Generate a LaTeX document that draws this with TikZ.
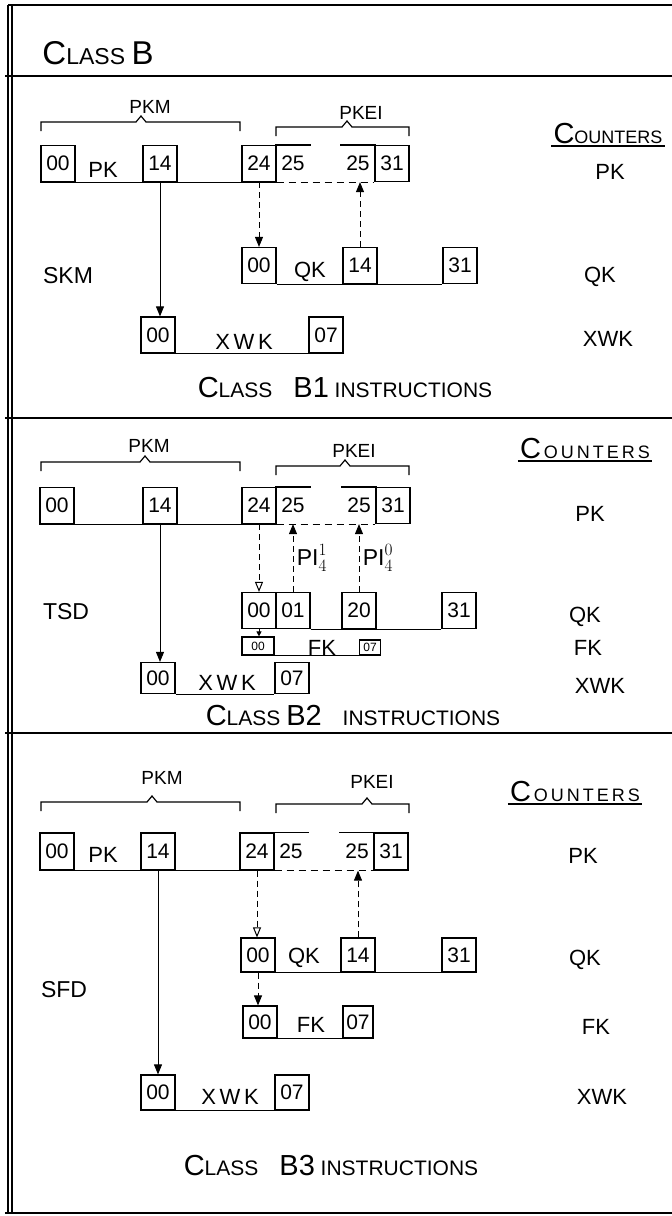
\documentclass[tikz,border=0pt]{standalone}
\usepackage{fontspec}
\setmainfont{Liberation Sans}
\usepackage{tikz}
\usetikzlibrary{arrows.meta}
\newcommand{\capbig}[1]{{\fontsize{29}{29}\selectfont #1}}
\newcommand{\regbrace}[4]{\draw[regline] (#1,#4+9) -- (#1,#4) -- (#3-5,#4) -- (#3,#4-6) -- (#3+5,#4) -- (#2,#4) -- (#2,#4+9);}
\tikzstyle{cell} = [draw, line width=1.2pt, minimum width=34pt, minimum height=36pt, inner sep=0pt, font=\fontsize{21}{21}\selectfont]
\tikzstyle{opencell} = [cell, draw=none]
\tikzstyle{smallcell} = [cell, minimum width=32pt, minimum height=18pt, font=\fontsize{12}{12}\selectfont]
\tikzstyle{regname} = [font=\fontsize{22}{22}\selectfont]
\tikzstyle{ctrname} = [font=\fontsize{22}{22}\selectfont]
\tikzstyle{ctrhead} = [font=\fontsize{18}{18}\selectfont, inner sep=2pt]
\tikzstyle{opname} = [font=\fontsize{23}{23}\selectfont]
\tikzstyle{field} = [font=\fontsize{19}{19}\selectfont]
\tikzstyle{piname} = [font=\fontsize{23}{23}\selectfont]
\tikzstyle{heading} = [font=\fontsize{21}{21}\selectfont]
\tikzstyle{regline} = [line width=1.2pt]
\tikzstyle{dregline} = [regline, dash pattern=on 7pt off 5pt]
\tikzstyle{rule} = [line width=1.6pt]
\tikzstyle{xfer} = [line width=1pt, -{Triangle[length=10pt,width=8pt]}]
\tikzstyle{dxfer} = [xfer, dash pattern=on 6pt off 4pt]
\tikzstyle{oxfer} = [line width=1pt, dash pattern=on 6pt off 4pt, -{Triangle[open,length=10pt,width=8pt]}]

\begin{document}
\begin{tikzpicture}[x=1pt, y=-1pt]
	\useasboundingbox (0,0) rectangle (672,1216);
	\draw[rule] (8,5) -- (672,5);
	\draw[rule] (5,76) -- (672,76);
	\draw[rule] (5,418) -- (672,418);
	\draw[rule] (5,733) -- (672,733);
	\draw[rule] (5,1213) -- (672,1213);
	\draw[rule] (8,5) -- (8,1213);
	\draw[rule] (12,5) -- (12,1213);

	\node[heading, font=\fontsize{23}{23}\selectfont] (hdr) at (98,53) {{\fontsize{33}{33}\selectfont C}LASS {\fontsize{33}{33}\selectfont B}};

	\regbrace{41}{240}{141}{122}
	\regbrace{276}{409}{347}{127}
	\node[field] (b1pkm) at (150,107) {PKM};
	\node[field] (b1pkei) at (361,113) {PKEI};
	\node[ctrhead, anchor=south] (b1ctr) at (608,146) {\capbig{C}OUNTERS};
	\draw[regline] (b1ctr.south west) -- (b1ctr.south east);
	\node[cell] (b1pk00) at (58,163.5) {00};
	\node[regname] (b1pkname) at (103,170) {PK};
	\node[cell] (b1pk14) at (160,163.5) {14};
	\node[cell] (b1pk24) at (259,163.5) {24};
	\node[opencell] (b1pk25a) at (293,163.5) {25};
	\node[opencell] (b1pk25b) at (358,163.5) {25};
	\node[cell] (b1pk31) at (392,163.5) {31};
	\draw[regline] (b1pk00.south west) -- (b1pk24.south east);
	\draw[dregline] (b1pk24.south east) -- (b1pk31.south west);
	\draw[regline] (b1pk25a.north west) -- (b1pk25a.north east);
	\draw[regline] (b1pk25b.north west) -- (b1pk25b.north east);
	\node[cell] (b1qk00) at (259,265.5) {00};
	\node[regname] (b1qkname) at (310,272) {QK};
	\node[cell] (b1qk14) at (360,265.5) {14};
	\node[cell] (b1qk31) at (460,265.5) {31};
	\draw[regline] (b1qk00.south east) -- (b1qk31.south west);
	\node[cell] (b1xwk00) at (158,335) {00};
	\node[regname] (b1xwkname) at (244,342) {X\,W\,K};
	\node[cell] (b1xwk07) at (326,335) {07};
	\draw[regline] (b1xwk00.south east) -- (b1xwk07.south west);
	\draw[xfer] (b1pk14.south) -- (b1pk14.south |- b1xwk00.north);
	\draw[dxfer] (b1pk24.south) -- (b1pk24.south |- b1qk00.north);
	\draw[dxfer] (b1qk14.north) -- (b1qk14.north |- b1pk25b.south);
	\node[opname] (b1op) at (68,276) {SKM};
	\node[ctrname] (b1ctrpk) at (610,172) {PK};
	\node[ctrname] (b1ctrqk) at (600,277) {QK};
	\node[ctrname] (b1ctrxwk) at (608,339) {XWK};
	\node[heading] (b1title) at (345,388) {\capbig{C}LASS\quad\capbig{B1} INSTRUCTIONS};

	\regbrace{41}{240}{145}{462}
	\regbrace{276}{409}{345}{466}
	\node[field] (b2pkm) at (149,446) {PKM};
	\node[field] (b2pkei) at (354,451) {PKEI};
	\node[ctrhead, anchor=south] (b2ctr) at (585,461) {\capbig{C}\,O\,U\,N\,T\,E\,R\,S};
	\draw[regline] (b2ctr.south west) -- (b2ctr.south east);
	\node[cell] (b2pk00) at (57,505.5) {00};
	\node[cell] (b2pk14) at (160,505.5) {14};
	\node[cell] (b2pk24) at (259,505.5) {24};
	\node[opencell] (b2pk25a) at (293,505.5) {25};
	\node[opencell] (b2pk25b) at (359,505.5) {25};
	\node[cell] (b2pk31) at (393,505.5) {31};
	\draw[regline] (b2pk00.south west) -- (b2pk24.south east);
	\draw[dregline] (b2pk24.south east) -- (b2pk31.south west);
	\draw[regline] (b2pk25a.north west) -- (b2pk25a.north east);
	\draw[regline] (b2pk25b.north west) -- (b2pk25b.north east);
	\node[cell] (b2qk00) at (259,610.5) {00};
	\node[cell] (b2qk01) at (293,610.5) {01};
	\node[cell] (b2qk20) at (359,610.5) {20};
	\node[cell] (b2qk31) at (459,610.5) {31};
	\draw[regline] (b2qk01.south east) -- (b2qk31.south west);
	\node[smallcell] (b2fk00) at (258,646) {00};
	\node[regname] (b2fkname) at (322,648) {FK};
	\node[smallcell, minimum width=21pt, minimum height=15pt] (b2fk07) at (370,647.5) {07};
	\draw[regline] (b2fk00.south east) -- (b2fk07.south west);
	\node[cell, minimum height=31pt] (b2xwk00) at (158,678) {00};
	\node[regname] (b2xwkname) at (227,683) {X\,W\,K};
	\node[cell, minimum height=31pt] (b2xwk07) at (292,678) {07};
	\draw[regline] (b2xwk00.south east) -- (b2xwk07.south west);
	\draw[xfer] (b2pk14.south) -- (b2pk14.south |- b2xwk00.north);
	\draw[oxfer] (b2pk24.south) -- (b2pk24.south |- b2qk00.north);
	\draw[dxfer] (b2qk01.north) -- (b2qk01.north |- b2pk25a.south) node[piname, right, pos=0.5] {$\mathrm{PI}_4^1$};
	\draw[dxfer] (b2qk20.north) -- (b2qk20.north |- b2pk25b.south) node[piname, right, pos=0.5] {$\mathrm{PI}_4^0$};
	\draw[xfer, -{Triangle[length=5pt,width=5pt]}] (b2qk00.south) -- (b2qk00.south |- b2fk00.north);
	\node[opname] (b2op) at (66,612) {TSD};
	\node[ctrname] (b2ctrpk) at (590,514) {PK};
	\node[ctrname] (b2ctrqk) at (585,617) {QK};
	\node[ctrname] (b2ctrfk) at (588,648) {FK};
	\node[ctrname] (b2ctrxwk) at (600,686) {XWK};
	\node[heading] (b2title) at (353,716) {\capbig{C}LASS \capbig{B2}\quad INSTRUCTIONS};

	\regbrace{41}{240}{152}{802}
	\regbrace{276}{409}{367}{804}
	\node[field] (b3pkm) at (162,778) {PKM};
	\node[field] (b3pkei) at (372,782) {PKEI};
	\node[ctrhead, anchor=south] (b3ctr) at (575,804) {\capbig{C}\,O\,U\,N\,T\,E\,R\,S};
	\draw[regline] (b3ctr.south west) -- (b3ctr.south east);
	\node[cell, minimum height=37pt] (b3pk00) at (57,851.5) {00};
	\node[regname] (b3pkname) at (103,855) {PK};
	\node[cell, minimum height=37pt] (b3pk14) at (158,851.5) {14};
	\node[cell, minimum height=37pt] (b3pk24) at (257,851.5) {24};
	\node[opencell, minimum height=37pt] (b3pk25a) at (291,851.5) {25};
	\node[opencell, minimum height=37pt] (b3pk25b) at (357,851.5) {25};
	\node[cell, minimum height=37pt] (b3pk31) at (391,851.5) {31};
	\draw[regline] (b3pk00.south west) -- (b3pk24.south east);
	\draw[dregline] (b3pk24.south east) -- (b3pk31.south west);
	\draw[regline] (b3pk25a.north west) -- (b3pk25a.north east);
	\draw[regline] (b3pk25b.north west) -- (b3pk25b.north east);
	\node[cell, minimum height=34pt] (b3qk00) at (258,955) {00};
	\node[regname] (b3qkname) at (304,958) {QK};
	\node[cell, minimum height=34pt] (b3qk14) at (358,955) {14};
	\node[cell, minimum height=34pt] (b3qk31) at (459,955) {31};
	\draw[regline] (b3qk00.south east) -- (b3qk31.south west);
	\node[cell, minimum height=32pt] (b3fk00) at (260,1022) {00};
	\node[regname] (b3fkname) at (311,1025) {FK};
	\node[cell, minimum width=30pt, minimum height=32pt] (b3fk07) at (358,1022) {07};
	\draw[regline] (b3fk00.south east) -- (b3fk07.south west);
	\node[cell, minimum height=35pt] (b3xwk00) at (158,1092.5) {00};
	\node[regname] (b3xwkname) at (230,1097) {X\,W\,K};
	\node[cell, minimum height=35pt] (b3xwk07) at (292,1092.5) {07};
	\draw[regline] (b3xwk00.south east) -- (b3xwk07.south west);
	\draw[xfer] (b3pk14.south) -- (b3pk14.south |- b3xwk00.north);
	\draw[oxfer] (b3pk24.south) -- (b3pk24.south |- b3qk00.north);
	\draw[dxfer] (b3qk14.north) -- (b3qk14.north |- b3pk25b.south);
	\draw[dxfer] (b3qk00.south) -- (b3qk00.south |- b3fk00.north);
	\node[opname] (b3op) at (64,990) {SFD};
	\node[ctrname] (b3ctrpk) at (583,856) {PK};
	\node[ctrname] (b3ctrqk) at (585,960) {QK};
	\node[ctrname] (b3ctrfk) at (596,1027) {FK};
	\node[ctrname] (b3ctrxwk) at (602,1097) {XWK};
	\node[heading] (b3title) at (331,1166) {\capbig{C}LASS\quad\capbig{B3} INSTRUCTIONS};
\end{tikzpicture}
\end{document}
